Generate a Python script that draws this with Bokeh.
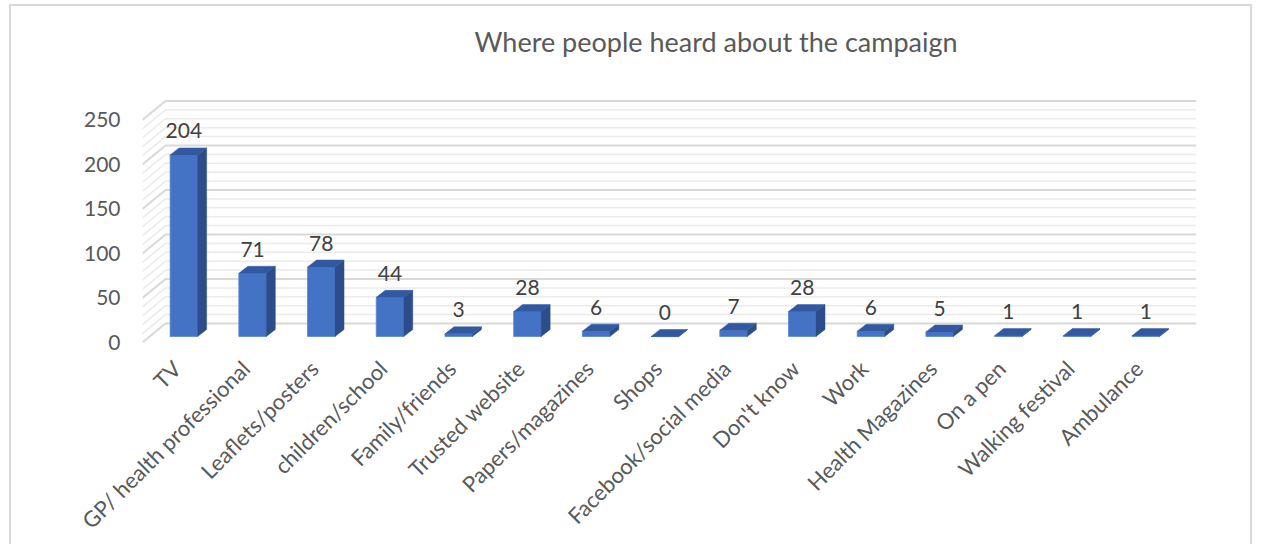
import numpy as np
from bokeh.plotting import figure
from bokeh.models import Range1d, FixedTicker, Title
from bokeh.embed import file_html
from bokeh.resources import INLINE
from bokeh.core.properties import value

# ---------------- data ----------------
categories = ["TV", "GP/ health professional", "Leaflets/posters", "children/school",
              "Family/friends", "Trusted website", "Papers/magazines", "Shops",
              "Facebook/social media", "Don't know", "Work", "Health Magazines",
              "On a pen", "Walking festival", "Ambulance"]
counts = [204, 71, 78, 44, 3, 28, 6, 0, 7, 28, 6, 5, 1, 1, 1]
y_ticks = [0, 50, 100, 150, 200, 250]
minor_step = 10
title_text = "Where people heard about the campaign"

# ---------------- style ----------------
FONT = "Lato"
TEXT = "#595959"
LABEL = "#404040"
FRONT_COL = "#4472C4"
SIDE_COL = "#2C4D8A"
TOP_COL = "#3258A0"

BAR_W = 0.40
FRONT = (0.102, 6.7)     # depth offset of bar front face (x units, y units)
BACK = (0.233, 14.6)     # depth offset of bar back face
WALL = (0.335, 21.35)    # depth offset of back wall

n = len(categories)
idx = np.arange(n, dtype=float)
vals = np.array(counts, dtype=float)

p = figure(width=1243, height=540,
           x_range=Range1d(-0.5, 15.0), y_range=Range1d(0, 277.5),
           output_backend="svg", toolbar_location=None,
           min_border_left=131, min_border_right=47,
           min_border_top=89, min_border_bottom=204)
p.outline_line_color = None
p.grid.visible = False
p.margin = (4, 0, 0, 9)
p.styles = {"border-left": "2px solid #D9D9D9",
            "border-top": "2px solid #D9D9D9",
            "border-right": "2px solid #D9D9D9"}

# spacer (nearest the frame), then the real title above it
p.add_layout(Title(text=" ", standoff=33, text_font_size="1px",
                   text_color="white"), "above")
p.add_layout(Title(text=title_text, align="left", offset=332, standoff=0,
                   vertical_align="top",
                   text_font=FONT, text_font_size="27px", text_font_style="normal",
                   text_color=TEXT), "above")

# ---------------- walls / gridlines ----------------
x0 = -0.5
x1 = n - 0.5
grid_vals = list(range(0, y_ticks[-1] + 1, minor_step))
minor_vals = [g for g in grid_vals if g not in y_ticks]

def wall_lines(gs):
    xs, ys = [], []
    for g in gs:
        xs.append([x0, x0 + WALL[0], x1 + WALL[0]])
        ys.append([g, g + WALL[1], g + WALL[1]])
    return xs, ys

mxs, mys = wall_lines(minor_vals)
p.multi_line(mxs, mys, line_color="#EBEBEB", line_width=1.5)
Mxs, Mys = wall_lines(y_ticks)
p.multi_line(Mxs, Mys, line_color="#D9D9D9", line_width=2)

# ---------------- 3D bars ----------------
lf = idx + FRONT[0] - BAR_W / 2
rf = idx + FRONT[0] + BAR_W / 2
lb = idx + BACK[0] - BAR_W / 2
rb = idx + BACK[0] + BAR_W / 2

p.quad(left=lf, right=rf, bottom=FRONT[1], top=vals + FRONT[1],
       fill_color=FRONT_COL, line_color="#5A86D4", line_width=0.8)

side_xs = [[rf[i], rf[i], rb[i], rb[i]] for i in range(n)]
side_ys = [[FRONT[1], vals[i] + FRONT[1], vals[i] + BACK[1], BACK[1]] for i in range(n)]
p.patches(side_xs, side_ys, fill_color=SIDE_COL, line_color=SIDE_COL, line_width=0.5)

top_xs = [[lf[i], rf[i], rb[i], lb[i]] for i in range(n)]
top_ys = [[vals[i] + FRONT[1], vals[i] + FRONT[1], vals[i] + BACK[1], vals[i] + BACK[1]] for i in range(n)]
p.patches(top_xs, top_ys, fill_color=TOP_COL, line_color=TOP_COL, line_width=0.5)

# ---------------- data labels ----------------
p.text(x=idx + FRONT[0], y=vals + FRONT[1] + 27, text=[str(c) for c in counts],
       text_align="center", text_baseline="middle",
       text_font=value(FONT), text_font_size="21px", text_color=LABEL)

# ---------------- axes ----------------
ya = p.yaxis[0]
ya.ticker = FixedTicker(ticks=y_ticks)
ya.axis_line_color = None
ya.major_tick_line_color = None
ya.minor_tick_line_color = None
ya.major_label_standoff = 16
ya.major_label_text_font = FONT
ya.major_label_text_font_size = "21px"
ya.major_label_text_color = TEXT

xa = p.xaxis[0]
xa.ticker = FixedTicker(ticks=list(range(n)))
xa.major_label_overrides = {i: c for i, c in enumerate(categories)}
xa.major_label_orientation = np.pi / 4
xa.axis_line_color = None
xa.major_tick_line_color = None
xa.minor_tick_line_color = None
xa.major_label_standoff = 16
xa.major_label_text_font = FONT
xa.major_label_text_font_size = "22px"
xa.major_label_text_color = TEXT

open("out.html", "w").write(file_html(p, INLINE))
